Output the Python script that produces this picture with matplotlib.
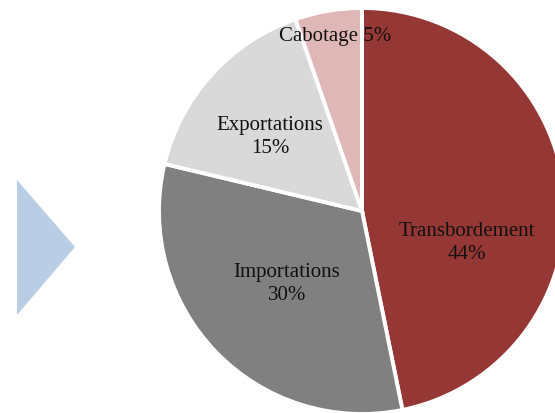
import matplotlib.pyplot as plt
from matplotlib.patches import Polygon

# donnees du graphique
categories = ['Transbordement', 'Importations', 'Exportations', 'Cabotage']
valeurs = [44, 30, 15, 5]
etiquettes = ['Transbordement\n44%', 'Importations\n30%', 'Exportations\n15%', 'Cabotage 5%']
couleurs = ['#953735', '#808080', '#d9d9d9', '#e0b7b7']

# positions des etiquettes (pixels, origine en haut a gauche)
pos_etiquettes = [(467, 243), (287, 284), (270, 137), (335, 37)]

W, H = 555, 414
fig = plt.figure(figsize=(W / 100, H / 100), dpi=100)
ax = fig.add_axes([0, 0, 1, 1])

ax.pie(valeurs,
       colors=couleurs,
       startangle=90,
       counterclock=False,
       center=(362, H - 212),
       radius=203,
       wedgeprops=dict(edgecolor='white', linewidth=2.8),
       frame=True)
ax.set_xlim(0, W)
ax.set_ylim(0, H)
ax.set_aspect('equal')
ax.axis('off')

for txt, (x, y) in zip(etiquettes, pos_etiquettes):
    ax.text(x, H - y, txt, ha='center', va='center',
            fontsize=15, family='Liberation Serif', color='#111111',
            linespacing=1.3)

# fleche a gauche
ax.add_patch(Polygon([(17, H - 181), (75, H - 248), (17, H - 316)],
                     closed=True, facecolor='#b9cde5', edgecolor='none'))

fig.savefig('out.png', dpi=100)
